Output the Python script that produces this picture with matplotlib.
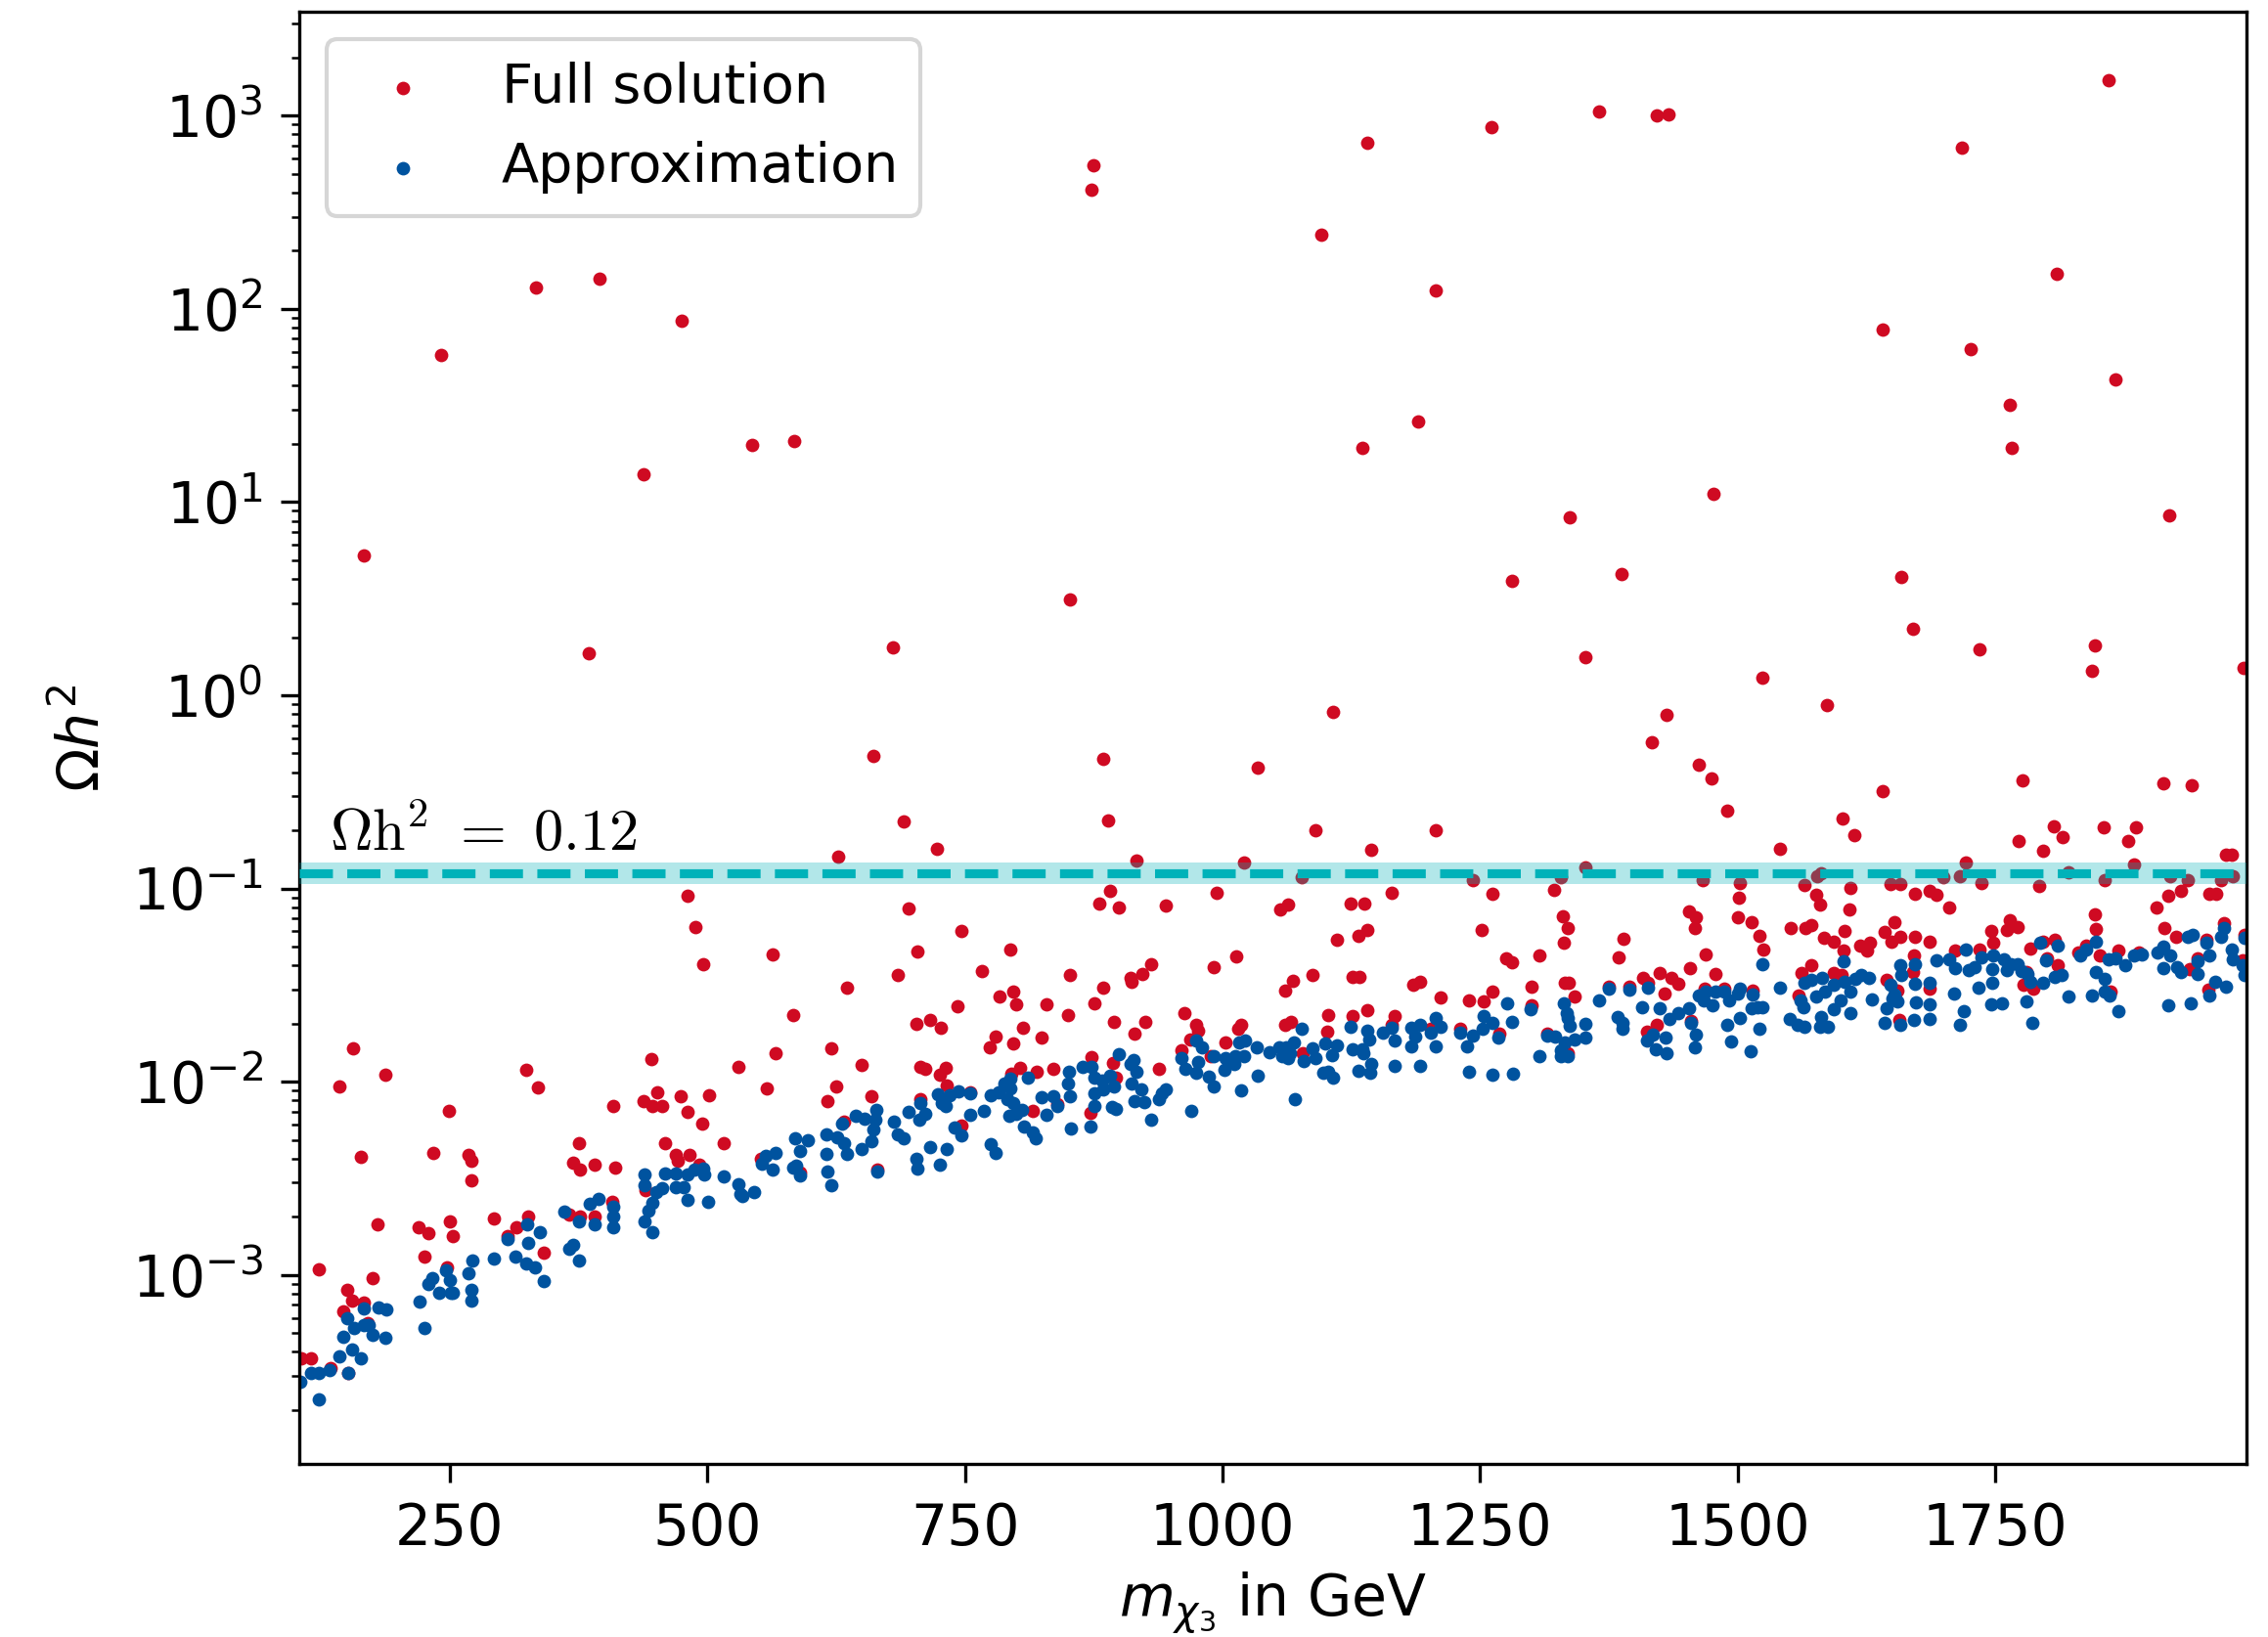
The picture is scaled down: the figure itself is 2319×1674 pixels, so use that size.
import matplotlib.pyplot as plt

red = '#cf0a22'
blue = '#00539f'
teal = '#00b2b9'

# Full solution: sparse points far above the band
full_outliers = [
    (242, 58), (334, 129), (395, 143), (475, 87), (438, 14), (167, 5.3), (385, 1.65),
    (543, 19.7), (584, 20.7), (873, 415), (875, 556), (852, 3.14), (680, 1.77), (661, 0.485),
    (627, 0.146), (691, 0.222), (723, 0.161), (884, 0.471), (889, 0.224), (1141, 720),
    (1096, 243), (1107, 0.82), (1136, 19), (1207, 124), (1190, 26), (1261, 870), (1281, 3.9),
    (1366, 1050), (1422, 1000), (1433, 1020), (1337, 8.3), (1387, 4.25), (1352, 1.58),
    (1477, 11), (1431, 0.79), (1417, 0.574), (1524, 1.24), (1587, 0.89), (1462, 0.439),
    (1475, 0.373), (1490, 0.252), (1641, 78), (1659, 4.1), (1670, 2.22), (1641, 0.319),
    (1726, 62), (1718, 684), (1764, 32), (1766, 19), (1735, 1.73), (1810, 152), (1860, 1535),
    (1867, 43), (1919, 8.5), (1847, 1.81), (1844, 1.34), (1991, 1.39), (1777, 0.362),
    (1913, 0.352), (1941, 0.344), (1034, 0.424), (1090, 0.201), (1207, 0.201), (1602, 0.23),
    (1613, 0.188), (1541, 0.161), (1807, 0.21), (1816, 0.185), (1773, 0.176), (1797, 0.156),
    (1855, 0.208), (1887, 0.207), (1879, 0.176), (1974, 0.150), (1980, 0.150), (1722, 0.137),
    (1885, 0.133),
]

full_low = [
    (481, 0.0916), (488, 0.063), (496, 0.0407), (156, 0.0148), (143, 0.0095), (187, 0.0109),
    (164, 0.0041), (249, 0.0071), (324, 0.0115), (336, 0.0093), (446, 0.0131), (451, 0.0088),
    (438, 0.0079), (447, 0.0075), (456, 0.0075), (474, 0.0084), (481, 0.0070), (495, 0.0061),
    (502, 0.0085), (530, 0.0119), (516, 0.0048), (409, 0.0075), (375, 0.0048), (370, 0.0038),
    (376, 0.0035), (391, 0.0037), (411, 0.0036), (459, 0.0048), (469, 0.0042), (471, 0.0039),
    (483, 0.0042), (492, 0.0037), (440, 0.00274), (180, 0.00182), (220, 0.00176),
    (229, 0.00165), (250, 0.00189), (253, 0.00158), (225, 0.00124), (293, 0.00196),
    (315, 0.00177), (326, 0.0020), (306, 0.00158), (341, 0.0013), (366, 0.00206),
    (376, 0.0020), (391, 0.0020), (408, 0.0024), (123, 0.00107), (175, 0.00096),
    (150, 0.00084), (155, 0.00074), (167, 0.00072), (147, 0.00065), (170, 0.00056),
    (247, 0.0011), (115, 0.00037), (106, 0.00037), (134, 0.00033), (151, 0.00031),
    (268, 0.0042), (271, 0.0039), (271, 0.0031), (234, 0.0043),
]

full_mid = [
    (917, 0.139), (891, 0.0976), (880, 0.0833), (899, 0.0793), (945, 0.0813), (695, 0.0784),
    (747, 0.0602), (704, 0.047), (794, 0.0485), (563, 0.0458), (636, 0.0305), (685, 0.0357),
    (767, 0.0375), (852, 0.0358), (884, 0.0306), (911, 0.0346), (912, 0.0328), (922, 0.0363),
    (931, 0.0404), (583, 0.0222), (743, 0.0245), (784, 0.0277), (797, 0.0292), (800, 0.0252),
    (829, 0.0252), (850, 0.022), (876, 0.0254), (703, 0.020), (716, 0.0208), (727, 0.0191),
    (806, 0.0191), (824, 0.0169), (780, 0.0171), (774, 0.0151), (797, 0.0158), (895, 0.0203),
    (925, 0.0205), (915, 0.0177), (566, 0.0140), (620, 0.0148), (650, 0.0122), (558, 0.0092),
    (625, 0.0094), (617, 0.0079), (659, 0.0084), (707, 0.0119), (711, 0.0116), (731, 0.0118),
    (726, 0.0109), (732, 0.0096), (755, 0.0088), (795, 0.011), (804, 0.0118), (820, 0.0112),
    (836, 0.0116), (873, 0.0134), (894, 0.0125), (938, 0.0117), (816, 0.0071), (872, 0.0069),
    (897, 0.0105), (707, 0.0081), (633, 0.0062), (747, 0.0059), (665, 0.0035), (590, 0.0034),
    (552, 0.004), (840, 0.0077),
]

full_high = [
    (1144, 0.158), (1021, 0.136), (1077, 0.114), (1352, 0.129), (1329, 0.115), (1243, 0.110),
    (994, 0.0948), (1164, 0.0955), (1262, 0.0937), (1322, 0.098), (1056, 0.0778),
    (1064, 0.0828), (1124, 0.0834), (1138, 0.084), (1111, 0.0542), (1132, 0.057),
    (1141, 0.061), (1252, 0.061), (1330, 0.072), (1335, 0.0625), (1331, 0.0523), (992, 0.039),
    (1013, 0.0447), (1087, 0.0358), (1068, 0.0333), (1061, 0.0296), (1126, 0.0347),
    (1133, 0.0347), (1275, 0.0435), (1281, 0.0415), (1308, 0.0452), (1185, 0.0316),
    (1192, 0.0328), (1212, 0.0272), (1239, 0.0262), (1254, 0.026), (1262, 0.0292),
    (1300, 0.0309), (1332, 0.0324), (1336, 0.0324), (1342, 0.0275), (963, 0.0226),
    (1103, 0.0221), (1126, 0.0218), (1141, 0.0234), (1167, 0.0218), (974, 0.0196),
    (976, 0.0184), (969, 0.0166), (1018, 0.0198), (1015, 0.0187), (1061, 0.0198),
    (1067, 0.0204), (1102, 0.0182), (1164, 0.0198), (1003, 0.016), (960, 0.0145),
    (989, 0.0135), (1078, 0.014), (1231, 0.0187), (1269, 0.0177), (1300, 0.025),
    (1315, 0.0177), (1335, 0.014), (1202, 0.0187),
]

full_top = [
    (1581, 0.1205), (1577, 0.116), (1700, 0.115), (1716, 0.116), (1466, 0.111), (1502, 0.107),
    (1501, 0.090), (1500, 0.0708), (1565, 0.1045), (1648, 0.105), (1658, 0.106), (1737, 0.107),
    (1610, 0.101), (1576, 0.093), (1580, 0.0828), (1672, 0.0937), (1686, 0.0975),
    (1693, 0.0927), (1609, 0.0783), (1705, 0.0801), (1453, 0.0762), (1460, 0.0708),
    (1459, 0.0623), (1514, 0.0673), (1521, 0.057), (1525, 0.0484), (1552, 0.0625),
    (1566, 0.0623), (1572, 0.0648), (1604, 0.0602), (1603, 0.0479), (1584, 0.0557),
    (1593, 0.0533), (1389, 0.0552), (1385, 0.0441), (1469, 0.0455), (1454, 0.0385),
    (1652, 0.0673), (1643, 0.0593), (1649, 0.0533), (1658, 0.0561), (1672, 0.0561),
    (1686, 0.0533), (1619, 0.0504), (1629, 0.0527), (1626, 0.048), (1746, 0.0604),
    (1748, 0.0523), (1761, 0.0611), (1764, 0.0687), (1772, 0.063), (1784, 0.049),
    (1711, 0.048), (1735, 0.0484), (1671, 0.0448), (1572, 0.0402), (1562, 0.0365),
    (1408, 0.0344), (1424, 0.0365), (1436, 0.0344), (1442, 0.032), (1413, 0.0326),
    (1479, 0.0359), (1429, 0.0287), (1375, 0.031), (1395, 0.031), (1645, 0.0335),
    (1655, 0.0296), (1670, 0.0369), (1686, 0.0304), (1515, 0.0295), (1468, 0.0304),
    (1487, 0.0304), (1593, 0.0365), (1601, 0.0355), (1559, 0.0278), (1778, 0.0316),
    (1412, 0.0182), (1422, 0.0197), (1455, 0.0206), (1657, 0.0208),
    (1821, 0.1216), (1793, 0.103), (1856, 0.111), (1920, 0.116), (1937, 0.111), (1969, 0.111),
    (1981, 0.116), (1918, 0.0918), (1930, 0.0973), (1958, 0.0944), (1965, 0.0944),
    (1907, 0.080), (1847, 0.0736), (1848, 0.0617), (1914, 0.0624), (1926, 0.0565),
    (1972, 0.066), (1797, 0.0533), (1808, 0.0544), (1831, 0.0466), (1838, 0.0504),
    (1870, 0.0475), (1890, 0.0466), (1955, 0.0544), (1992, 0.0577), (1852, 0.0448),
    (1800, 0.0435), (1811, 0.0402), (1780, 0.0369), (1787, 0.0304), (1939, 0.0384),
    (1947, 0.0435), (1990, 0.0423), (1957, 0.0298), (1862, 0.0292),
]

# Approximation
approx_low = [
    (123, 0.000227), (105, 0.00028), (115, 0.00031), (123, 0.00031), (133, 0.00032),
    (151, 0.00031), (143, 0.00038), (155, 0.00041), (164, 0.00037), (147, 0.00048),
    (150, 0.0006), (157, 0.00053), (167, 0.00055), (171, 0.00055), (175, 0.00049),
    (187, 0.00047), (167, 0.00067), (181, 0.00068), (188, 0.00066), (221, 0.00073),
    (225, 0.00053), (229, 0.0009), (233, 0.00096), (240, 0.00081), (251, 0.00081),
    (253, 0.00081), (246, 0.00106), (250, 0.00094), (268, 0.00102), (272, 0.00118),
    (271, 0.00084), (271, 0.00074), (293, 0.00121), (306, 0.00153), (314, 0.00125),
    (325, 0.00183), (326, 0.00147), (324, 0.00114), (333, 0.00109), (337, 0.00166),
    (341, 0.00093), (361, 0.00212), (366, 0.00137), (370, 0.00143), (375, 0.00119),
    (375, 0.00189), (386, 0.00233), (394, 0.00248), (391, 0.00182), (409, 0.00225),
    (409, 0.0020), (409, 0.00177), (439, 0.0033), (439, 0.0029), (439, 0.00189),
    (443, 0.00214), (447, 0.00167), (447, 0.00235), (450, 0.00268), (456, 0.0028),
    (459, 0.00333), (469, 0.00333), (469, 0.00283), (477, 0.00283), (481, 0.00245),
    (481, 0.0033), (487, 0.0035), (496, 0.00354), (497, 0.0033), (501, 0.0024),
    (516, 0.00325), (530, 0.00296), (532, 0.00262),
]

approx_mid = [
    (534, 0.00255), (545, 0.00269), (553, 0.00378), (557, 0.00413), (566, 0.0043),
    (563, 0.00352), (583, 0.0036), (586, 0.00369), (590, 0.00327), (590, 0.0044),
    (585, 0.0051), (598, 0.005), (616, 0.00536), (616, 0.00422), (617, 0.00344),
    (620, 0.00292), (626, 0.00518), (633, 0.00483), (636, 0.00422), (631, 0.00605),
    (644, 0.00668), (653, 0.00642), (650, 0.0045), (664, 0.00712), (663, 0.00632),
    (661, 0.00563), (659, 0.00492), (665, 0.00344), (681, 0.00624), (685, 0.00536),
    (691, 0.00509), (695, 0.00694), (707, 0.00773), (711, 0.00685), (706, 0.00632),
    (703, 0.00397), (704, 0.00353), (716, 0.00458), (726, 0.0037), (732, 0.0045),
    (724, 0.00856), (728, 0.00773), (731, 0.00748), (735, 0.00846), (744, 0.0089),
    (755, 0.00873), (740, 0.00579), (747, 0.00526), (755, 0.00677), (768, 0.00704),
    (775, 0.00846), (783, 0.00882), (788, 0.00974), (794, 0.0104), (794, 0.0092),
    (791, 0.00809), (797, 0.00773), (793, 0.00668), (800, 0.00685), (805, 0.00713),
    (775, 0.00474), (780, 0.00429), (807, 0.00588), (816, 0.00545), (819, 0.00509),
    (811, 0.0105), (824, 0.00827), (836, 0.00836), (840, 0.00748), (829, 0.00677),
    (850, 0.00983), (851, 0.0112), (852, 0.00836), (853, 0.0057), (864, 0.0119),
    (873, 0.0119), (876, 0.0105), (883, 0.0101), (891, 0.0107), (895, 0.00947),
    (884, 0.00912), (876, 0.00873), (876, 0.00748), (872, 0.00588), (893, 0.0074),
    (897, 0.00722), (899, 0.0139), (914, 0.0129), (911, 0.0123), (917, 0.0113),
    (912, 0.00983), (921, 0.00912), (915, 0.00796), (924, 0.00787), (931, 0.00632),
    (938, 0.00809), (941, 0.00873), (945, 0.00912),
]

approx_high = [
    (970, 0.0071), (960, 0.0132), (964, 0.0117), (974, 0.0111), (976, 0.0127), (974, 0.0163),
    (980, 0.0151), (987, 0.0106), (992, 0.0095), (992, 0.0136), (1003, 0.0132),
    (1002, 0.0115), (1011, 0.0124), (1012, 0.0135), (1021, 0.0136), (1016, 0.016),
    (1022, 0.0163), (1018, 0.0090), (1033, 0.0151), (1034, 0.0107), (1046, 0.0142),
    (1055, 0.0151), (1058, 0.0135), (1062, 0.0151), (1066, 0.014), (1069, 0.016),
    (1064, 0.0132), (1070, 0.0081), (1077, 0.0187), (1079, 0.0128), (1087, 0.0149),
    (1090, 0.0133), (1098, 0.0111), (1103, 0.0112), (1107, 0.0105), (1100, 0.0157),
    (1106, 0.0137), (1111, 0.0154), (1124, 0.0192), (1126, 0.0147), (1132, 0.0114),
    (1143, 0.0111), (1144, 0.0124), (1141, 0.0184), (1142, 0.0166), (1136, 0.0147),
    (1137, 0.014), (1156, 0.018), (1164, 0.0191), (1167, 0.0163), (1167, 0.012),
    (1183, 0.0191), (1183, 0.0152), (1187, 0.0171), (1192, 0.0198), (1192, 0.012),
    (1202, 0.018), (1207, 0.0214), (1212, 0.0192), (1207, 0.0152), (1231, 0.018),
    (1237, 0.0152), (1243, 0.0173), (1254, 0.0218), (1253, 0.0187), (1262, 0.0202),
    (1268, 0.017), (1239, 0.0112), (1262, 0.0109), (1282, 0.011), (1276, 0.0253),
    (1281, 0.0204), (1299, 0.0236), (1308, 0.0135), (1315, 0.0173), (1323, 0.0171),
    (1331, 0.0255), (1334, 0.0227), (1335, 0.0214), (1337, 0.0195), (1332, 0.016),
    (1342, 0.0166), (1352, 0.02), (1352, 0.017), (1329, 0.0135), (1335, 0.0136),
    (1329, 0.0145), (1366, 0.0265),
]

approx_top = [
    (1375, 0.0304), (1395, 0.0301), (1384, 0.0216), (1388, 0.0202), (1388, 0.0187),
    (1407, 0.0243), (1413, 0.0306), (1424, 0.0241), (1412, 0.0163), (1418, 0.0175),
    (1421, 0.0147), (1430, 0.0169), (1431, 0.0141), (1434, 0.021), (1442, 0.0227),
    (1453, 0.0241), (1455, 0.0202), (1460, 0.0175), (1459, 0.0151), (1462, 0.0279),
    (1469, 0.0292), (1467, 0.0262), (1476, 0.0248), (1479, 0.0292), (1487, 0.0294),
    (1492, 0.0262), (1500, 0.0287), (1502, 0.0304), (1490, 0.0198), (1494, 0.0162),
    (1502, 0.0214), (1513, 0.0144), (1521, 0.0189), (1515, 0.0281), (1514, 0.0241),
    (1524, 0.0243), (1519, 0.0243), (1524, 0.0406), (1541, 0.0306), (1551, 0.021),
    (1558, 0.0198), (1565, 0.0192), (1561, 0.0262), (1564, 0.0243), (1565, 0.0326),
    (1572, 0.0335), (1582, 0.0344), (1576, 0.0276), (1585, 0.0292), (1581, 0.0216),
    (1580, 0.0192), (1588, 0.0192), (1593, 0.0316), (1593, 0.0238), (1600, 0.0265),
    (1604, 0.0329), (1610, 0.0292), (1610, 0.0227), (1603, 0.0418), (1614, 0.0341),
    (1620, 0.0355), (1628, 0.0344), (1630, 0.0267), (1643, 0.0202), (1645, 0.0241),
    (1648, 0.0316), (1650, 0.027), (1655, 0.026), (1652, 0.0281), (1658, 0.0402),
    (1659, 0.0355), (1658, 0.0198), (1671, 0.0208), (1672, 0.0322), (1672, 0.0406),
    (1673, 0.0258), (1686, 0.021), (1686, 0.0252), (1686, 0.0326), (1693, 0.0423),
    (1705, 0.043), (1711, 0.0386), (1710, 0.0287), (1720, 0.0232), (1716, 0.0197),
    (1722, 0.0484), (1724, 0.0377), (1730, 0.0391), (1734, 0.0306), (1737, 0.044),
    (1748, 0.0452), (1747, 0.0381), (1747, 0.0324), (1746, 0.0251), (1757, 0.0255),
    (1759, 0.043), (1761, 0.0377), (1765, 0.0406), (1772, 0.0406), (1776, 0.0372),
    (1781, 0.0362), (1784, 0.0329), (1780, 0.026), (1786, 0.0202),
    (1794, 0.0523), (1799, 0.0426), (1797, 0.0326), (1811, 0.0507), (1808, 0.0348),
    (1815, 0.0357), (1821, 0.0275), (1833, 0.0448), (1838, 0.0484), (1848, 0.0533),
    (1844, 0.0279), (1848, 0.0369), (1856, 0.0341), (1856, 0.0292), (1861, 0.0279),
    (1860, 0.043), (1867, 0.0435), (1870, 0.0232), (1876, 0.0399), (1885, 0.0448),
    (1892, 0.0457), (1908, 0.0469), (1913, 0.0499), (1913, 0.0386), (1920, 0.0448),
    (1930, 0.0369), (1927, 0.0391), (1918, 0.025), (1940, 0.0255), (1937, 0.0565),
    (1942, 0.0577), (1947, 0.0418), (1947, 0.0362), (1955, 0.0527), (1958, 0.0448),
    (1958, 0.0279), (1964, 0.0328), (1974, 0.031), (1969, 0.0565), (1972, 0.0624),
    (1980, 0.0484), (1981, 0.043), (1990, 0.0399), (1992, 0.0355), (1992, 0.0554),
]

full = full_outliers + full_low + full_mid + full_high + full_top
approx = approx_low + approx_mid + approx_high + approx_top

fig = plt.figure(figsize=(2319 / 300, 1674 / 300), dpi=300)
ax = fig.add_axes([0.132, 0.1057, 0.8585, 0.8871])

ax.scatter([p[0] for p in full], [p[1] for p in full], s=11, color=red, lw=0,
           label='Full solution', zorder=2)
ax.scatter([p[0] for p in approx], [p[1] for p in approx], s=11, color=blue, lw=0,
           label='Approximation', zorder=2)

# relic density line
ax.axhspan(0.105, 0.137, color=teal, alpha=0.3, lw=0, zorder=3)
ax.axhline(0.12, color=teal, ls='--', lw=2.2, zorder=3)
ax.text(133, 0.157, r'$\Omega\mathrm{h}^2\ =\ 0.12$', fontsize=14.5, math_fontfamily='cm')

ax.set_yscale('log')
ax.set_xlim(104, 1994)
ax.set_ylim(1.05e-4, 3450)
ax.set_xticks([250, 500, 750, 1000, 1250, 1500, 1750])
ax.tick_params(labelsize=14, pad=4.5)
ax.tick_params(which='major', length=4.5)
ax.set_xlabel(r'$m_{\chi_3}$ in GeV', fontsize=14, labelpad=3.5)
ax.set_ylabel(r'$\Omega h^2$', fontsize=14, labelpad=5)
ax.legend(loc='upper left', fontsize=13.4)

fig.savefig('out.png', dpi=300)
